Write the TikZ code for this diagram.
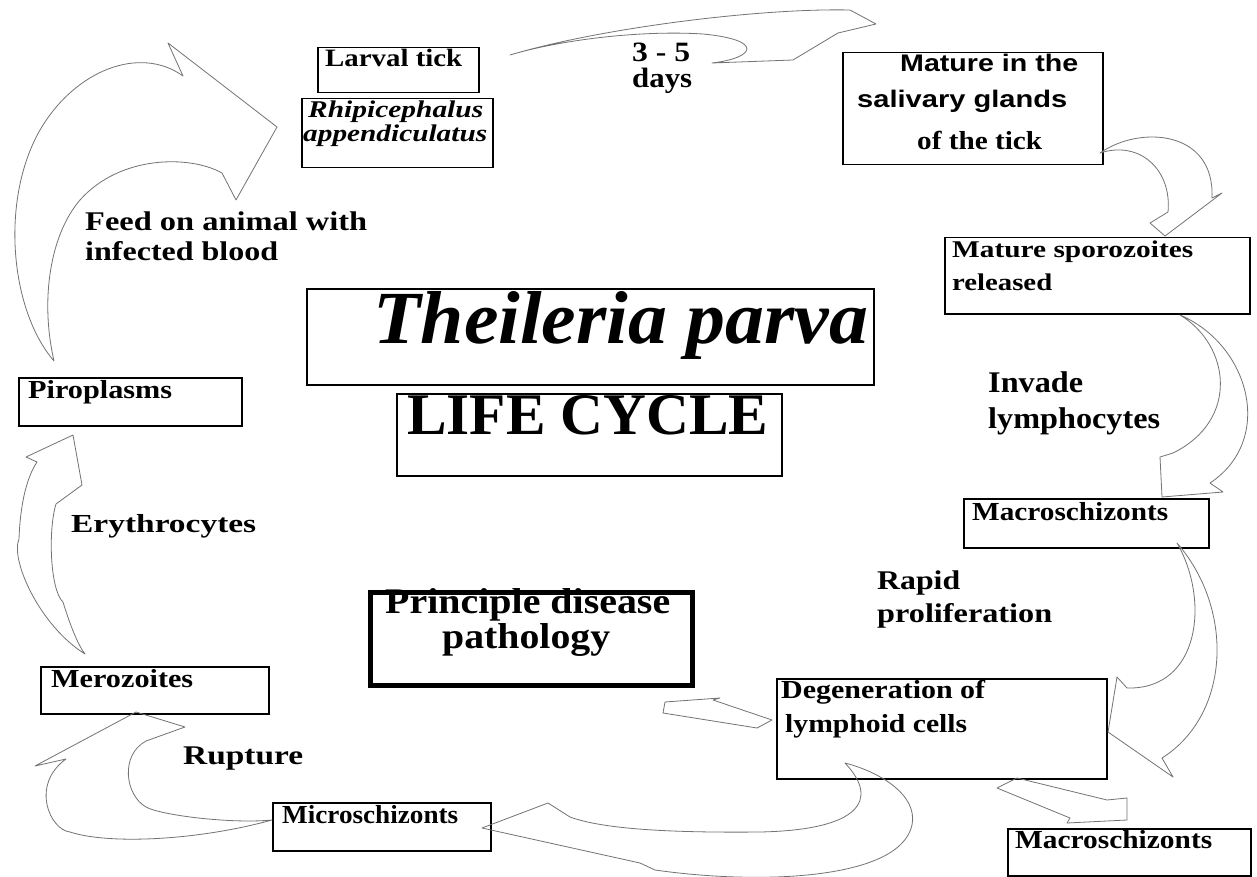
\documentclass[tikz,border=0pt]{standalone}
\usepackage{fontspec}
\setmainfont{Liberation Serif}
\newfontfamily\arialf{Liberation Sans}
\usepackage{graphicx}
\newcommand\fitw[2]{\resizebox{#1pt}{\height}{#2}}
\tikzset{
  box/.style={draw=black, line width=1.5pt, anchor=north west, inner sep=0pt},
  thickbox/.style={box, line width=5pt},
  lbl/.style={anchor=base west, inner sep=0pt, font=\bfseries\fontsize{26}{26}\selectfont},
  fs/.style={font=\bfseries\fontsize{#1}{#1}\selectfont},
  fsi/.style={font=\bfseries\itshape\fontsize{#1}{#1}\selectfont},
  fsa/.style={font=\arialf\bfseries\fontsize{#1}{#1}\selectfont},
  blk/.style={draw=black!55, line width=0.8pt, line join=round},
}
\begin{document}
\begin{tikzpicture}[x=1pt,y=-1pt]
\useasboundingbox (0,0) rectangle (1257,877);
\fill[white] (0,0) rectangle (1257,877);

% ---------- texts of the pathology box (under its border) ----------
\node[lbl, fs=36] (tpri1) at (385,613) {\fitw{285}{Principle disease}};
\node[lbl, fs=36] (tpri2) at (442,648) {\fitw{168}{pathology}};

% ---------- boxes ----------
\node[box, minimum width=161pt, minimum height=45pt] (larval) at (317,47) {};
\node[box, minimum width=191pt, minimum height=69pt] (rhip) at (301,98) {};
\node[box, minimum width=260pt, minimum height=112pt] (mature) at (842,52) {};
\node[box, minimum width=305pt, minimum height=76pt] (spor) at (944,237) {};
\node[box, minimum width=567pt, minimum height=96pt] (title) at (306,288) {};
\node[box, minimum width=385pt, minimum height=82pt] (life) at (396,393) {};
\node[box, minimum width=223pt, minimum height=48pt] (piro) at (18,377) {};
\node[box, minimum width=245pt, minimum height=49pt] (macroA) at (963,498) {};
\node[thickbox, minimum width=322pt, minimum height=93pt] (princ) at (367.5,589.5) {};
\node[box, minimum width=228pt, minimum height=47pt] (mero) at (40,666) {};
\node[box, minimum width=330pt, minimum height=100pt] (degen) at (776,678) {};
\node[box, minimum width=218pt, minimum height=48pt] (micro) at (272,802) {};
\node[box, minimum width=243pt, minimum height=47pt] (macroB) at (1007,828) {};

% ---------- texts ----------
\node[lbl, fs=25] (tlarval) at (325,67) {\fitw{137}{Larval tick}};
\node[lbl, fsi=24] (trhip1) at (308,118) {\fitw{175}{Rhipicephalus}};
\node[lbl, fsi=24] (trhip2) at (303,142) {\fitw{184}{appendiculatus}};
\node[lbl, fs=28] (tdays1) at (632,62) {\fitw{58}{3 - 5}};
\node[lbl, fs=28] (tdays2) at (632,88) {\fitw{60}{days}};
\node[lbl, fsa=24] (tmat1) at (900,72) {\fitw{178}{Mature in the}};
\node[lbl, fsa=24] (tmat2) at (857,108) {\fitw{210}{salivary glands}};
\node[lbl, fs=26] (tmat3) at (917,150) {\fitw{125}{of the tick}};
\node[lbl, fs=24] (tspor1) at (952,258) {\fitw{241}{Mature sporozoites}};
\node[lbl, fs=24] (tspor2) at (952,290) {\fitw{100}{released}};
\node[lbl, fs=30] (tinv1) at (988,392) {\fitw{95}{Invade}};
\node[lbl, fs=30] (tinv2) at (988,428) {\fitw{172}{lymphocytes}};
\node[lbl, fs=26] (tmacA) at (972,520) {\fitw{196}{Macroschizonts}};
\node[lbl, fs=27] (trap1) at (877,589) {\fitw{83}{Rapid}};
\node[lbl, fs=27] (trap2) at (877,622) {\fitw{175}{proliferation}};
\node[lbl, fs=26] (tdeg1) at (781,698) {\fitw{204}{Degeneration of}};
\node[lbl, fs=26] (tdeg2) at (785,732) {\fitw{182}{lymphoid cells}};
\node[lbl, fs=26] (tmacB) at (1015,848) {\fitw{197}{Macroschizonts}};
\node[lbl, fs=26] (tmic) at (282,823) {\fitw{176}{Microschizonts}};
\node[lbl, fs=27] (trup) at (183,764) {\fitw{120}{Rupture}};
\node[lbl, fs=26] (tmer) at (51,687) {\fitw{142}{Merozoites}};
\node[lbl, fs=26] (tery) at (71,532) {\fitw{185}{Erythrocytes}};
\node[lbl, fs=26] (tpir) at (28,398) {\fitw{144}{Piroplasms}};
\node[lbl, fs=27] (tfeed1) at (85,230) {\fitw{282}{Feed on animal with}};
\node[lbl, fs=27] (tfeed2) at (85,260) {\fitw{193}{infected blood}};
\node[lbl, font=\bfseries\itshape\fontsize{75}{75}\selectfont] (ttitle) at (373,343) {\fitw{495}{Theileria parva}};
\node[lbl, fs=59] (tlife) at (407,434) {\fitw{361}{LIFE CYCLE}};

% ---------- block arrows ----------
% feed -> larval tick
\draw[blk] (54,361) .. controls (10,310) and (0,200) .. (40,130)
  .. controls (75,70) and (140,45) .. (183,76) -- (168,43) -- (277,127)
  -- (236,200) -- (222,173) .. controls (190,155) and (120,155) .. (80,200)
  .. controls (50,235) and (40,300) .. (54,361) -- cycle;
% larval tick -> mature (3-5 days)
\draw[blk] (510,55) .. controls (600,28) and (760,8) .. (850,10) -- (876,24)
  -- (838,33) -- (793,60) -- (712,63) .. controls (755,58) and (765,40) .. (703,34)
  .. controls (640,30) and (560,40) .. (510,55) -- cycle;
% mature -> sporozoites
\draw[blk] (1100,153) .. controls (1140,125) and (1215,130) .. (1212,198)
  -- (1222,193) -- (1165,236) -- (1150,223) -- (1168,212)
  .. controls (1172,170) and (1140,140) .. (1100,153) -- cycle;
% sporozoites -> macroschizonts
\draw[blk] (1180,315) .. controls (1250,345) and (1275,440) .. (1210,483)
  -- (1223,492) -- (1162,497) -- (1160,457) -- (1173,453)
  .. controls (1240,420) and (1230,345) .. (1180,315) -- cycle;
% macroschizonts -> degeneration
\draw[blk] (1177,543) .. controls (1210,600) and (1200,690) .. (1127,688)
  -- (1117,677) -- (1108,732) -- (1173,777) -- (1162,758)
  .. controls (1230,715) and (1235,610) .. (1177,543) -- cycle;
% degeneration -> macroschizonts (bottom)
\draw[blk] (1017,778) -- (1107,800) -- (1127,798) -- (1127,820) -- (1067,823)
  -- (1070,818) -- (997,788) -- cycle;
% degeneration -> principle disease pathology
\draw[blk] (772,720) -- (713,700) -- (720,698) -- (665,702) -- (663,713)
  -- (757,728) -- cycle;
% degeneration -> microschizonts
\draw[blk] (845,763) .. controls (880,800) and (860,830) .. (760,832)
  .. controls (660,833) and (600,828) .. (570,817) -- (548,803) -- (482,828)
  -- (640,863) -- (655,870) .. controls (760,885) and (900,880) .. (912,825)
  .. controls (918,795) and (880,772) .. (845,763) -- cycle;
% microschizonts -> merozoites
\draw[blk] (272,820) .. controls (230,824) and (160,815) .. (146,807)
  .. controls (125,795) and (120,755) .. (146,741) -- (185,727) -- (136,712)
  -- (35,766) -- (66,759) .. controls (30,785) and (50,830) .. (70,832)
  .. controls (110,845) and (200,840) .. (272,820) -- cycle;
% merozoites -> piroplasms
\draw[blk] (85,654) .. controls (40,626) and (10,560) .. (19,539)
  .. controls (20,510) and (25,480) .. (37,462) -- (26,457) -- (73,435)
  -- (82,485) -- (56,504) .. controls (48,530) and (50,590) .. (63,602)
  .. controls (70,625) and (78,645) .. (85,654) -- cycle;
\end{tikzpicture}
\end{document}
